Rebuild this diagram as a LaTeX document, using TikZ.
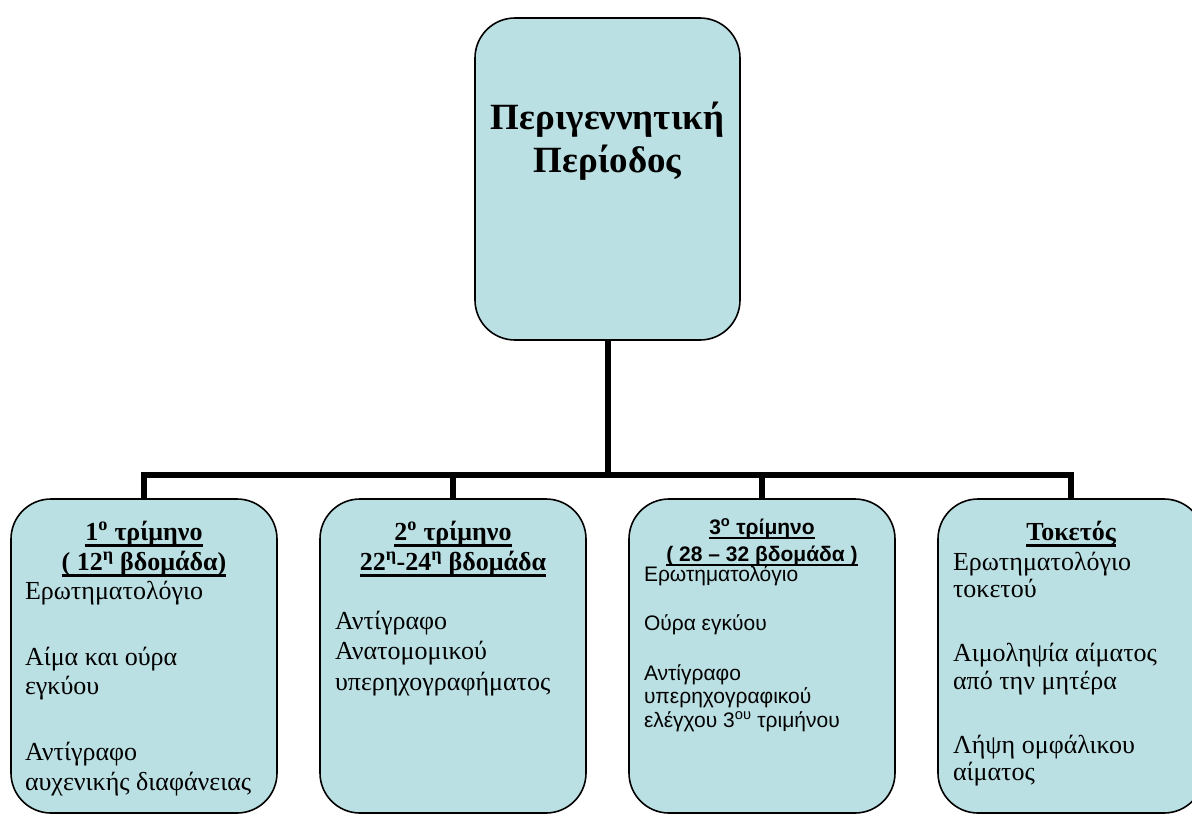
\documentclass[tikz,border=0pt]{standalone}
\usepackage{fontspec}
\setmainfont{Liberation Serif}
\newfontfamily\arialfont{Liberation Sans}
\definecolor{boxfill}{RGB}{187,224,227}
\newcommand\myul[1]{\setbox0\hbox{#1}\rlap{\rule[-0.25em]{\wd0}{0.09em}}\box0}
\begin{document}
\begin{tikzpicture}[x=1pt,y=-1pt,
  box/.style={draw=black,line width=1.6pt,fill=boxfill,rounded corners=40pt,
    minimum width=266pt,minimum height=314pt,inner sep=0pt},
  conn/.style={line width=6pt,line join=miter},
  txt/.style={inner sep=0pt,outer sep=0pt},
  hdserif/.style={txt,anchor=base,align=center,font=\bfseries\fontsize{26}{30}\selectfont},
  hdsans/.style={txt,anchor=base,align=center,font=\arialfont\bfseries\fontsize{21}{27}\selectfont},
  bodyserif/.style={txt,anchor=base west,align=left,font=\fontsize{26}{29.5}\selectfont},
  bodysans/.style={txt,anchor=base west,align=left,font=\arialfont\fontsize{21}{23.5}\selectfont}]
\useasboundingbox (0,0) rectangle (1192,815);
\clip (0,0) rectangle (1192,815);

\node[box,minimum width=265pt,minimum height=322pt] (top) at (607.5,179) {};
\node[box] (b1) at (144,656) {};
\node[box] (b2) at (453,656) {};
\node[box] (b3) at (762,656) {};
\node[box] (b4) at (1071,656) {};

\coordinate (bar) at (0,475);
\draw[conn] (b1.north) -- (b1.north |- bar) -- (b4.north |- bar) -- (b4.north);
\draw[conn] (b2.north) -- (b2.north |- bar);
\draw[conn] (b3.north) -- (b3.north |- bar);
\draw[conn] (top.south) -- (top.south |- bar);

% multi-line nodes are anchored at the baseline of their last line
\node[txt,anchor=base,align=center,font=\bfseries\fontsize{37}{43}\selectfont] (title) at (607.5,172) {Περιγεννητική\\Περίοδος};

\node[hdserif] (h1) at (144,570) {\myul{1\textsuperscript{ο} τρίμηνο}\\\myul{( 12\textsuperscript{η} βδομάδα)}};
\node[bodyserif] (t1) at (25,790) {Ερωτηματολόγιο\\[36.5pt]Αίμα και ούρα\\εγκύου\\[36.5pt]Αντίγραφο\\αυχενικής διαφάνειας};

\node[hdserif] (h2) at (453,570) {\myul{2\textsuperscript{ο} τρίμηνο}\\\myul{22\textsuperscript{η}-24\textsuperscript{η} βδομάδα}};
\node[bodyserif,font=\fontsize{26}{30.5}\selectfont] (t2) at (335,690) {Αντίγραφο\\Ανατομομικού\\υπερηχογραφήματος};

\node[hdsans] (h3) at (762,561) {\myul{3\textsuperscript{ο} τρίμηνο}\\\myul{( 28 – 32 βδομάδα )}};
\node[bodysans] (t3) at (644,727) {Ερωτηματολόγιο\\[26pt]Ούρα εγκύου\\[26pt]Αντίγραφο\\υπερηχογραφικού\\ελέγχου 3\textsuperscript{ου} τριμήνου};

\node[hdserif] (h4) at (1071,540) {\myul{Τοκετός}};
\node[bodyserif,font=\fontsize{26}{27.5}\selectfont] (t4) at (953,780.5) {Ερωτηματολόγιο\\τοκετού\\[36.5pt]Αιμοληψία αίματος\\από την μητέρα\\[36.5pt]Λήψη ομφάλικου\\αίματος};
\end{tikzpicture}
\end{document}
